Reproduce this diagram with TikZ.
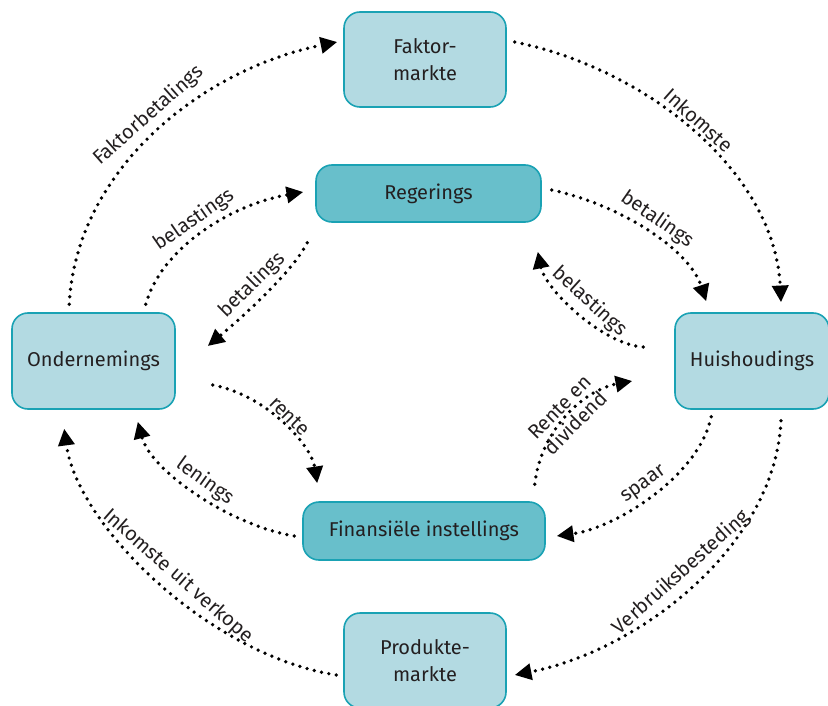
\documentclass[tikz,border=0pt]{standalone}
\usepackage{fontspec}
\setmainfont{Fira Sans}
\usetikzlibrary{arrows.meta,calc}

\definecolor{lig}{HTML}{B3DAE2}
\definecolor{donker}{HTML}{68BFCB}
\definecolor{rand}{HTML}{1AA2B4}
\definecolor{ink}{HTML}{231F20}

\begin{document}
\begin{tikzpicture}[x=0.75pt, y=-0.75pt,
  every node/.style={font=\fontsize{15}{20}\selectfont, text=ink},
  mark box/.style={draw=rand, fill=lig, line width=1.2pt, rounded corners=12pt, align=center, inner sep=0pt},
  vloei/.style={line width=2.8pt, line cap=round, dash pattern=on 0pt off 5.6pt, -{Triangle[length=12.5pt,width=12pt]}},
  byskrif/.style={sloped, above, inner sep=1pt},
  lang byskrif/.style={byskrif, inner sep=4pt}]
\useasboundingbox (0,0) rectangle (828,706);

\node[mark box, minimum width=121.5pt, minimum height=71.25pt] (fakt) at (425,59.5) {Faktor-\\markte};
\node[mark box, fill=donker, minimum width=168.75pt, minimum height=42.75pt] (reg) at (428.5,193.5) {Regerings};
\node[mark box, minimum width=122.25pt, minimum height=72pt] (onder) at (93.5,361) {Ondernemings};
\node[mark box, minimum width=115.5pt, minimum height=72pt] (huis) at (752,361) {Huishoudings};
\node[mark box, fill=donker, minimum width=181.5pt, minimum height=43.5pt] (fin) at (424,531) {Finansiële instellings};
\node[mark box, minimum width=121.5pt, minimum height=71.25pt] (prod) at (425,660.5) {Produkte-\\markte};

%buitenste kring
\draw[vloei] ($(onder.north west)+(58,-8)$) .. controls +(7,-133) and +(-138,28) .. ($(fakt.west)+(-6,-17.5)$)
  node[lang byskrif, pos=0.52] (l-faktor) {Faktorbetalings};
\draw[vloei] ($(fakt.east)+(8,-17.5)$) .. controls +(136,28) and +(-6,-128) .. ($(huis.north)+(29,-10)$)
  node[byskrif, pos=0.48, inner sep=2pt] (l-inkomste) {Inkomste};
\draw[vloei] ($(huis.south)+(29,11)$) .. controls +(-6,125) and +(126,-25) .. ($(prod.east)+(8,14.5)$)
  node[lang byskrif, pos=0.5] (l-verbruik) {Verbruiksbesteding};
\draw[vloei] ($(prod.west)+(-7,14.5)$) .. controls +(-127,-20) and +(13,97) .. ($(onder.south west)+(53,19)$)
  node[lang byskrif, pos=0.47] (l-verkope) {Inkomste uit verkope};

%regering
\draw[vloei] ($(onder.north east)+(-30,-8)$) .. controls +(15,-55) and +(-74,13) .. ($(reg.west)+(-12,-1.5)$)
  node[byskrif, pos=0.5, inner sep=2.5pt] (l-bel1) {belastings};
\draw[vloei] ($(reg.south west)+(-8,20)$) .. controls +(-15,30) and +(30,-25) .. ($(onder.east)+(32,-15)$)
  node[byskrif, pos=0.5, inner sep=3pt] (l-bet1) {betalings};
\draw[vloei] ($(reg.east)+(10,-3.5)$) .. controls +(69,15) and +(-17,-52) .. ($(huis.north west)+(32,-11)$)
  node[byskrif, pos=0.5, inner sep=2.5pt] (l-bet2) {betalings};
\draw[vloei] ($(huis.west)+(-31,-14)$) .. controls +(-39,-2) and +(8,39) .. ($(reg.south east)+(-4,29)$)
  node[byskrif, pos=0.5, inner sep=3pt] (l-bel2) {belastings};

%finansiele instellings
\draw[vloei] ($(onder.east)+(37,24)$) .. controls +(53,10) and +(-6,-39) .. ($(fin.north west)+(15,-18)$)
  node[byskrif, pos=0.5] (l-rente) {rente};
\draw[vloei] ($(fin.west)+(-8,5)$) .. controls +(-65,-11) and +(13,49) .. ($(onder.south east)+(-38,12)$)
  node[byskrif, pos=0.5, inner sep=2pt] (l-lenings) {lenings};
\draw[vloei] ($(fin.north east)+(-11,-17)$) .. controls +(6,-55) and +(-48,9) .. ($(huis.west)+(-42,20)$)
  node[sloped, align=center, pos=0.5, font=\fontsize{15}{17}\selectfont] (l-dividend) {Rente en\\dividend};
\draw[vloei] ($(huis.south west)+(37,7)$) .. controls +(-12,59) and +(59,-8) .. ($(fin.east)+(11,5)$)
  node[byskrif, pos=0.5, inner sep=2.5pt] (l-spaar) {spaar};
\end{tikzpicture}
\end{document}
